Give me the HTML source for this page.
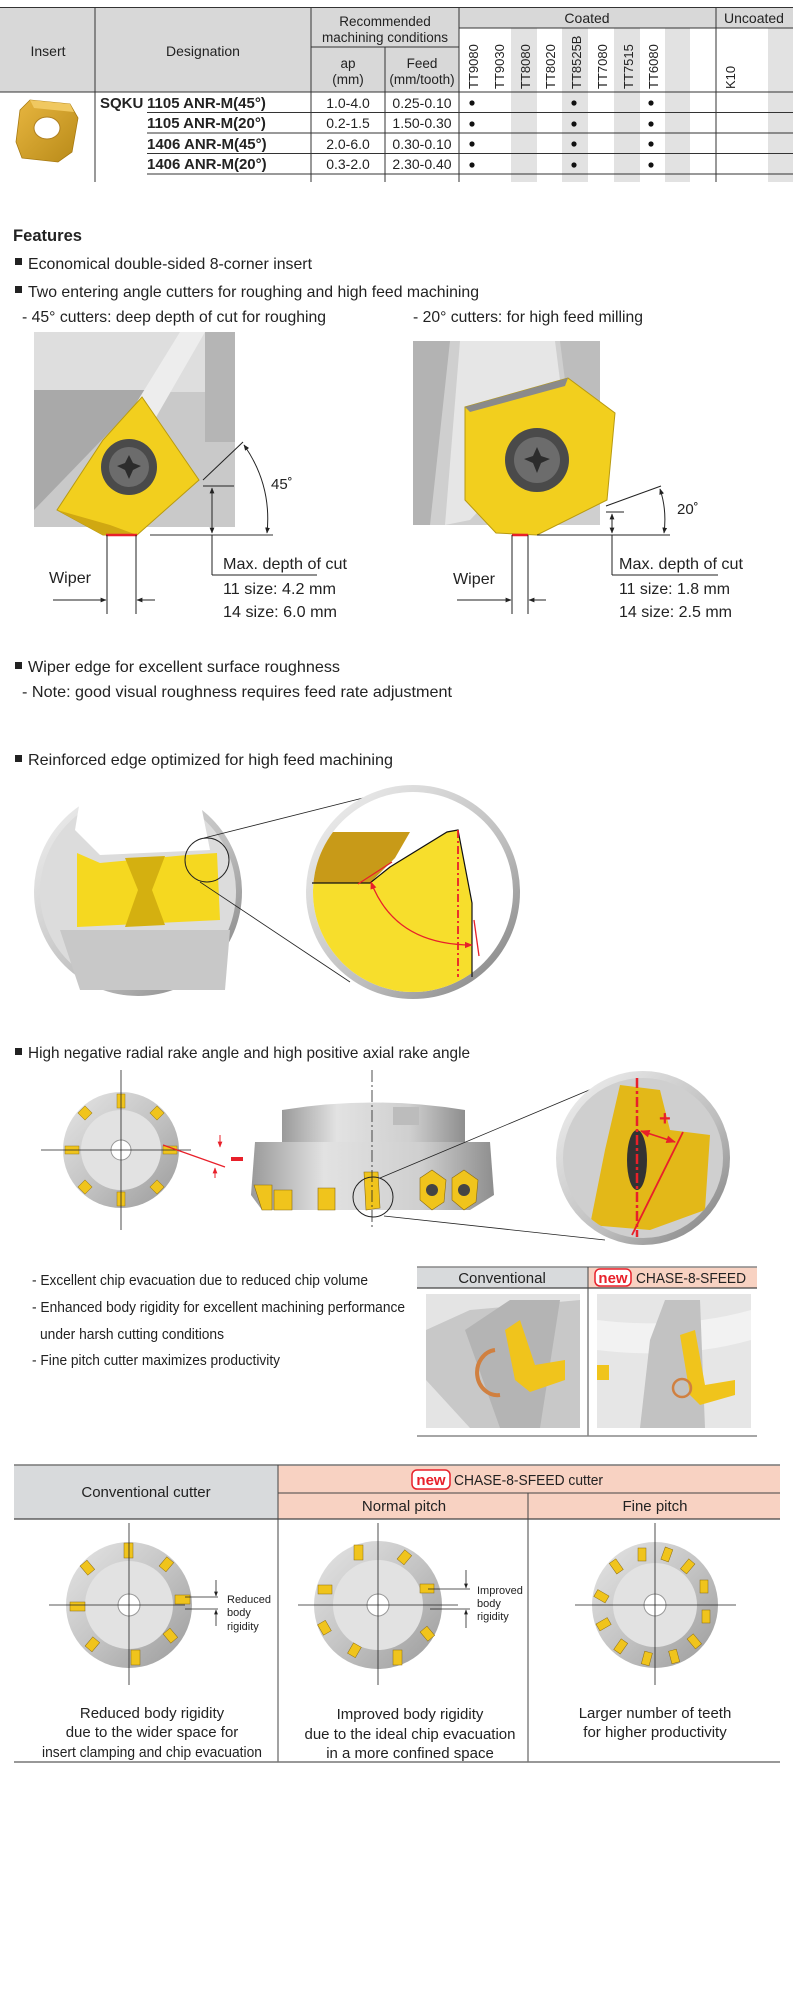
<!DOCTYPE html>
<html><head><meta charset="utf-8"><style>
html,body{margin:0;padding:0;background:#fff;width:800px;height:2000px;overflow:hidden}
svg{display:block}
text{font-family:"Liberation Sans Narrow","Liberation Sans",sans-serif;fill:#222}
.b{font-weight:bold}
</style></head><body>
<svg width="800" height="2000" viewBox="0 0 800 2000" xmlns="http://www.w3.org/2000/svg">
<defs>
<linearGradient id="met" x1="0" y1="0" x2="1" y2="1"><stop offset="0" stop-color="#e6e6e6"/><stop offset="0.5" stop-color="#c4c4c4"/><stop offset="1" stop-color="#9a9a9a"/></linearGradient>
<linearGradient id="met2" x1="0" y1="0" x2="1" y2="0"><stop offset="0" stop-color="#9a9a9a"/><stop offset="0.3" stop-color="#e2e2e2"/><stop offset="0.7" stop-color="#cfcfcf"/><stop offset="1" stop-color="#8e8e8e"/></linearGradient>
<linearGradient id="ring" x1="0" y1="0" x2="1" y2="1"><stop offset="0" stop-color="#f4f4f4"/><stop offset="0.6" stop-color="#bdbdbd"/><stop offset="1" stop-color="#7a7a7a"/></linearGradient>
<linearGradient id="gold" x1="0" y1="0" x2="1" y2="1"><stop offset="0" stop-color="#e8b640"/><stop offset="1" stop-color="#b88a18"/></linearGradient>
<marker id="ar" viewBox="0 0 10 10" refX="9" refY="5" markerWidth="6" markerHeight="6" orient="auto-start-reverse"><path d="M0,1 L10,5 L0,9 z" fill="#222"/></marker>
<marker id="arr" viewBox="0 0 10 10" refX="9" refY="5" markerWidth="6" markerHeight="6" orient="auto-start-reverse"><path d="M0,1 L10,5 L0,9 z" fill="#e8202a"/></marker>
</defs>

<!-- ================= TOP TABLE ================= -->
<rect x="0" y="7" width="459" height="85" fill="#d8d8d8"/>
<rect x="459" y="7" width="334" height="21" fill="#d8d8d8"/>
<g fill="#e2e2e2">
<rect x="511" y="28" width="26" height="154"/><rect x="562" y="28" width="26" height="154"/>
<rect x="614" y="28" width="26" height="154"/><rect x="665" y="28" width="25" height="154"/>
<rect x="768" y="28" width="25" height="154"/>
</g>
<g stroke="#333" stroke-width="1" fill="none">
<line x1="0" y1="7.5" x2="793" y2="7.5"/>
<line x1="0" y1="92" x2="793" y2="92"/>
<line x1="311" y1="47" x2="459" y2="47"/>
<line x1="459" y1="28" x2="793" y2="28"/>
<line x1="95" y1="7" x2="95" y2="182"/>
<line x1="311" y1="7" x2="311" y2="182"/>
<line x1="385" y1="47" x2="385" y2="182"/>
<line x1="459" y1="7" x2="459" y2="182"/>
<line x1="716" y1="7" x2="716" y2="182"/>
<line x1="147" y1="112.5" x2="793" y2="112.5"/>
<line x1="147" y1="133" x2="793" y2="133"/>
<line x1="147" y1="153.5" x2="793" y2="153.5"/>
<line x1="147" y1="174" x2="793" y2="174"/>
</g>
<text x="48" y="56" font-size="14" text-anchor="middle">Insert</text>
<text x="203" y="56" font-size="14" text-anchor="middle">Designation</text>
<text x="385" y="26" font-size="13.5" text-anchor="middle">Recommended</text>
<text x="385" y="42" font-size="13.5" text-anchor="middle">machining conditions</text>
<text x="348" y="68" font-size="13.5" text-anchor="middle">ap</text>
<text x="348" y="84" font-size="13.5" text-anchor="middle">(mm)</text>
<text x="422" y="68" font-size="13.5" text-anchor="middle">Feed</text>
<text x="422" y="84" font-size="13.5" text-anchor="middle">(mm/tooth)</text>
<text x="587" y="23" font-size="14" text-anchor="middle">Coated</text>
<text x="754" y="23" font-size="14" text-anchor="middle">Uncoated</text>
<g font-size="13" font-family="Liberation Sans,sans-serif">
<text transform="translate(478,89) rotate(-90)">TT9080</text>
<text transform="translate(504,89) rotate(-90)">TT9030</text>
<text transform="translate(530,89) rotate(-90)">TT8080</text>
<text transform="translate(555,89) rotate(-90)">TT8020</text>
<text transform="translate(581,89) rotate(-90)">TT8525B</text>
<text transform="translate(607,89) rotate(-90)">TT7080</text>
<text transform="translate(633,89) rotate(-90)">TT7515</text>
<text transform="translate(658,89) rotate(-90)">TT6080</text>
<text transform="translate(735,89) rotate(-90)">K10</text>
</g>
<!-- insert image -->
<path d="M30,100 L70,104 L78,118 L72,152 L58,162 L22,158 L16,142 L20,110 Z" fill="url(#gold)" stroke="#a87a10" stroke-width="0.8"/>
<path d="M30,100 L70,104 L74,112 L34,108 Z" fill="#f0c860"/>
<ellipse cx="47" cy="128" rx="13" ry="11" fill="#fff" stroke="#b08020"/>
<text x="100" y="108" font-size="15" class="b">SQKU</text>
<g font-size="15" class="b">
<text x="147" y="108">1105 ANR-M(45°)</text>
<text x="147" y="128">1105 ANR-M(20°)</text>
<text x="147" y="149">1406 ANR-M(45°)</text>
<text x="147" y="169">1406 ANR-M(20°)</text>
</g>
<g font-size="14" text-anchor="middle">
<text x="348" y="108">1.0-4.0</text><text x="422" y="108">0.25-0.10</text>
<text x="348" y="128">0.2-1.5</text><text x="422" y="128">1.50-0.30</text>
<text x="348" y="149">2.0-6.0</text><text x="422" y="149">0.30-0.10</text>
<text x="348" y="169">0.3-2.0</text><text x="422" y="169">2.30-0.40</text>
</g>
<g fill="#111">
<circle cx="472" cy="103" r="2.6"/><circle cx="574" cy="103" r="2.6"/><circle cx="651" cy="103" r="2.6"/>
<circle cx="472" cy="124" r="2.6"/><circle cx="574" cy="124" r="2.6"/><circle cx="651" cy="124" r="2.6"/>
<circle cx="472" cy="144" r="2.6"/><circle cx="574" cy="144" r="2.6"/><circle cx="651" cy="144" r="2.6"/>
<circle cx="472" cy="165" r="2.6"/><circle cx="574" cy="165" r="2.6"/><circle cx="651" cy="165" r="2.6"/>
</g>

<!-- ================= FEATURES ================= -->
<text x="13" y="241" font-size="17" class="b" textLength="69" lengthAdjust="spacingAndGlyphs">Features</text>
<rect x="15" y="258" width="7" height="7" fill="#222"/>
<text x="28" y="269" font-size="16" textLength="284" lengthAdjust="spacingAndGlyphs">Economical double-sided 8-corner insert</text>
<rect x="15" y="286" width="7" height="7" fill="#222"/>
<text x="28" y="297" font-size="16" textLength="451" lengthAdjust="spacingAndGlyphs">Two entering angle cutters for roughing and high feed machining</text>
<text x="22" y="322" font-size="16" textLength="304" lengthAdjust="spacingAndGlyphs">- 45° cutters: deep depth of cut for roughing</text>
<text x="413" y="322" font-size="16" textLength="230" lengthAdjust="spacingAndGlyphs">- 20° cutters: for high feed milling</text>

<!-- left cutter image -->
<rect x="34" y="332" width="201" height="195" fill="#c9c9c9"/>
<rect x="34" y="332" width="201" height="60" fill="#dedede"/>
<path d="M34,390 L150,390 L34,510 Z" fill="#a9a9a9"/>
<path d="M180,332 L205,332 L120,480 L95,470 Z" fill="#ededed"/>
<rect x="205" y="332" width="30" height="110" fill="#b5b5b5"/>
<path d="M142,397 L199,480 L137,535 L103,535 L57,510 L103,440 Z" fill="#f2cf1e" stroke="#b89a10" stroke-width="1"/>
<path d="M57,510 L103,535 L137,535 L110,525 Z" fill="#d0a812"/>
<circle cx="129" cy="467" r="28" fill="#4a4a4a"/>
<circle cx="129" cy="467" r="20" fill="#6c6c6c"/>
<path d="M129,455 L133,463 L141,466 L133,470 L129,479 L125,470 L117,466 L125,463 Z" fill="#2c2c2c"/>
<line x1="106" y1="535" x2="137" y2="535" stroke="#e8202a" stroke-width="2.5"/>
<g stroke="#222" stroke-width="1" fill="none">
<line x1="150" y1="535" x2="273" y2="535" stroke="#777" stroke-width="1.5"/>
<line x1="203" y1="486" x2="234" y2="486"/>
<line x1="212" y1="488" x2="212" y2="533" marker-start="url(#ar)" marker-end="url(#ar)"/>
<line x1="203" y1="480" x2="243" y2="442"/>
<path d="M244,445 Q272,485 267,533" marker-start="url(#ar)" marker-end="url(#ar)"/>
<line x1="107" y1="535" x2="107" y2="614"/>
<line x1="136" y1="535" x2="136" y2="614"/>
<line x1="53" y1="600" x2="106" y2="600" marker-end="url(#ar)"/>
<line x1="155" y1="600" x2="137" y2="600" marker-end="url(#ar)"/>
<line x1="212" y1="535" x2="212" y2="575"/>
<line x1="212" y1="575" x2="317" y2="575"/>
</g>
<text x="271" y="489" font-size="15">45˚</text>
<text x="49" y="583" font-size="16" textLength="42" lengthAdjust="spacingAndGlyphs">Wiper</text>
<text x="223" y="569" font-size="16" textLength="124" lengthAdjust="spacingAndGlyphs">Max. depth of cut</text>
<text x="223" y="594" font-size="16" textLength="113" lengthAdjust="spacingAndGlyphs">11 size: 4.2 mm</text>
<text x="223" y="617" font-size="16" textLength="114" lengthAdjust="spacingAndGlyphs">14 size: 6.0 mm</text>

<!-- right cutter image -->
<rect x="413" y="341" width="187" height="184" fill="#cfcfcf"/>
<path d="M460,341 L555,341 L565,420 L470,520 L445,525 Z" fill="#e6e6e6"/>
<path d="M560,341 L600,341 L600,470 L585,500 L570,420 Z" fill="#bdbdbd"/>
<path d="M413,341 L450,341 L430,525 L413,525 Z" fill="#b3b3b3"/>
<path d="M465,407 L568,378 L615,413 L607,500 L537,535 L496,533 L465,500 Z" fill="#f2cf1e" stroke="#b89a10" stroke-width="1"/>
<path d="M465,407 L568,378 L565,386 L470,412 Z" fill="#8a8a8a"/>
<circle cx="537" cy="460" r="32" fill="#4a4a4a"/>
<circle cx="537" cy="460" r="23" fill="#6c6c6c"/>
<path d="M537,447 L541,456 L550,459 L541,463 L537,473 L533,463 L524,459 L533,456 Z" fill="#2c2c2c"/>
<line x1="512" y1="535" x2="528" y2="535" stroke="#e8202a" stroke-width="2.5"/>
<g stroke="#222" stroke-width="1" fill="none">
<line x1="537" y1="535" x2="670" y2="535"/>
<line x1="606" y1="512" x2="624" y2="512"/>
<line x1="612" y1="514" x2="612" y2="533" marker-start="url(#ar)" marker-end="url(#ar)"/>
<line x1="606" y1="506" x2="661" y2="486"/>
<path d="M660,489 Q667,510 664,533" marker-start="url(#ar)" marker-end="url(#ar)"/>
<line x1="512" y1="535" x2="512" y2="614"/>
<line x1="528" y1="535" x2="528" y2="614"/>
<line x1="457" y1="600" x2="511" y2="600" marker-end="url(#ar)"/>
<line x1="546" y1="600" x2="529" y2="600" marker-end="url(#ar)"/>
<line x1="612" y1="535" x2="612" y2="575"/>
<line x1="612" y1="575" x2="718" y2="575"/>
</g>
<text x="677" y="514" font-size="15">20˚</text>
<text x="453" y="584" font-size="16" textLength="42" lengthAdjust="spacingAndGlyphs">Wiper</text>
<text x="619" y="569" font-size="16" textLength="124" lengthAdjust="spacingAndGlyphs">Max. depth of cut</text>
<text x="619" y="594" font-size="16" textLength="111" lengthAdjust="spacingAndGlyphs">11 size: 1.8 mm</text>
<text x="619" y="617" font-size="16" textLength="113" lengthAdjust="spacingAndGlyphs">14 size: 2.5 mm</text>

<!-- wiper bullet -->
<rect x="15" y="662" width="7" height="7" fill="#222"/>
<text x="28" y="672" font-size="16" textLength="312" lengthAdjust="spacingAndGlyphs">Wiper edge for excellent surface roughness</text>
<text x="22" y="697" font-size="16" textLength="430" lengthAdjust="spacingAndGlyphs">- Note: good visual roughness requires feed rate adjustment</text>

<!-- reinforced -->
<rect x="15" y="755" width="7" height="7" fill="#222"/>
<text x="28" y="765" font-size="16" textLength="365" lengthAdjust="spacingAndGlyphs">Reinforced edge optimized for high feed machining</text>

<circle cx="138" cy="892" r="104" fill="url(#ring)"/>
<circle cx="138" cy="892" r="98" fill="#dcdcdc"/>
<path d="M80,800 Q138,775 200,800 L210,850 L100,855 L75,830 Z" fill="#fff"/>
<path d="M60,930 L230,930 L225,990 L80,990 Z" fill="#c8c8c8"/>
<path d="M77,853 L100,863 L187,855 L217,853 L220,920 L77,927 Z" fill="#f5d820"/>
<path d="M125,858 L165,856 L152,890 L165,925 L125,927 L138,890 Z" fill="#d4b010"/>
<circle cx="207" cy="860" r="22" fill="none" stroke="#222" stroke-width="1"/>
<line x1="204" y1="838" x2="367" y2="797" stroke="#222" stroke-width="0.8"/>
<line x1="200" y1="882" x2="350" y2="982" stroke="#222" stroke-width="0.8"/>

<circle cx="413" cy="892" r="107" fill="url(#ring)"/>
<circle cx="413" cy="892" r="100" fill="#fff"/>
<clipPath id="rc"><circle cx="413" cy="892" r="100"/></clipPath>
<g clip-path="url(#rc)">
<path d="M300,832 L410,832 L395,858 L370,883 L300,883 Z" fill="#c89a18"/>
<path d="M300,883 L370,883 L390,867 L447,832 L458,830 L472,903 L472,1000 L300,1000 Z" fill="#f7de2c"/>
</g>
<path d="M312,883 L370,883 L390,867 L447,832 L458,830 L472,903 L472,977" fill="none" stroke="#111" stroke-width="1.2"/>
<line x1="458" y1="830" x2="458" y2="977" stroke="#e8202a" stroke-width="1.8" stroke-dasharray="8,3,2,3"/>
<path d="M371,882 Q395,945 472,945" fill="none" stroke="#e8202a" stroke-width="1.3" marker-start="url(#arr)" marker-end="url(#arr)"/>
<line x1="358" y1="884" x2="392" y2="862" stroke="#e8202a" stroke-width="1.3"/>
<line x1="474" y1="920" x2="479" y2="956" stroke="#e8202a" stroke-width="1.3"/>

<!-- rake angle -->
<rect x="15" y="1048" width="7" height="7" fill="#222"/>
<text x="28" y="1058" font-size="16" textLength="442" lengthAdjust="spacingAndGlyphs">High negative radial rake angle and high positive axial rake angle</text>

<circle cx="121" cy="1150" r="58" fill="url(#met)"/>
<circle cx="121" cy="1150" r="40" fill="#e2e2e2"/>
<circle cx="121" cy="1150" r="10" fill="#fff" stroke="#999"/>
<g fill="#f0c41c" stroke="#9a7a10" stroke-width="0.5">
<rect x="117" y="1094" width="8" height="14"/><rect x="117" y="1192" width="8" height="14"/>
<rect x="65" y="1146" width="14" height="8"/><rect x="163" y="1146" width="14" height="8"/>
<rect x="80" y="1108" width="10" height="10" transform="rotate(-45 85 1113)"/>
<rect x="152" y="1108" width="10" height="10" transform="rotate(45 157 1113)"/>
<rect x="80" y="1182" width="10" height="10" transform="rotate(45 85 1187)"/>
<rect x="152" y="1182" width="10" height="10" transform="rotate(-45 157 1187)"/>
</g>
<g stroke="#222" stroke-width="0.8"><line x1="41" y1="1150" x2="191" y2="1150"/><line x1="121" y1="1070" x2="121" y2="1230"/></g>
<line x1="163" y1="1145" x2="225" y2="1167" stroke="#e8202a" stroke-width="1.2"/>
<line x1="220" y1="1135" x2="220" y2="1147" stroke="#e8202a" marker-end="url(#arr)"/>
<line x1="215" y1="1178" x2="215" y2="1168" stroke="#e8202a" marker-end="url(#arr)"/>
<rect x="231" y="1157" width="12" height="4" fill="#e8202a"/>

<path d="M282,1110 Q373,1095 465,1110 L465,1142 L282,1142 Z" fill="url(#met2)"/>
<rect x="393" y="1107" width="26" height="18" fill="#bcbcbc"/>
<path d="M255,1142 L490,1142 L494,1195 L470,1210 L262,1210 L251,1195 Z" fill="url(#met2)"/>
<g fill="#f0c41c" stroke="#8a6a10" stroke-width="0.6">
<path d="M254,1185 L272,1185 L272,1210 L262,1210 Z"/><path d="M274,1190 L292,1190 L292,1210 L274,1210 Z"/>
<path d="M318,1188 L335,1188 L335,1210 L318,1210 Z"/><path d="M364,1172 L378,1172 L380,1208 L366,1210 Z"/>
<path d="M420,1178 L432,1170 L446,1180 L444,1202 L432,1210 L420,1200 Z"/>
<path d="M452,1178 L464,1170 L478,1180 L476,1202 L464,1210 L452,1200 Z"/>
</g>
<circle cx="432" cy="1190" r="6" fill="#444"/><circle cx="464" cy="1190" r="6" fill="#444"/>
<line x1="372" y1="1070" x2="372" y2="1230" stroke="#222" stroke-width="0.8" stroke-dasharray="12,3,2,3"/>
<circle cx="373" cy="1197" r="20" fill="none" stroke="#222" stroke-width="1"/>
<line x1="380" y1="1178" x2="594" y2="1088" stroke="#222" stroke-width="0.8"/>
<line x1="384" y1="1216" x2="605" y2="1240" stroke="#222" stroke-width="0.8"/>

<circle cx="643" cy="1158" r="87" fill="url(#ring)"/>
<circle cx="643" cy="1158" r="80" fill="#cfcfcf"/>
<clipPath id="rc2"><circle cx="643" cy="1158" r="80"/></clipPath>
<g clip-path="url(#rc2)">
<path d="M620,1085 L660,1090 L670,1130 L710,1135 L705,1210 L650,1230 L590,1225 L605,1150 Z" fill="#e3b818"/>
<ellipse cx="637" cy="1160" rx="10" ry="30" fill="#333"/>
</g>
<line x1="637" y1="1078" x2="637" y2="1237" stroke="#e8202a" stroke-width="2.5" stroke-dasharray="10,3,3,3"/>
<line x1="683" y1="1132" x2="632" y2="1235" stroke="#e8202a" stroke-width="1.8"/>
<line x1="641" y1="1131" x2="675" y2="1142" stroke="#e8202a" stroke-width="1.6" marker-start="url(#arr)" marker-end="url(#arr)"/>
<text x="659" y="1125" font-size="20" fill="#e8202a" style="fill:#e8202a" class="b">+</text>

<!-- bullet list -->
<text x="32" y="1285" font-size="15" textLength="336" lengthAdjust="spacingAndGlyphs">- Excellent chip evacuation due to reduced chip volume</text>
<text x="32" y="1312" font-size="15" textLength="373" lengthAdjust="spacingAndGlyphs">- Enhanced body rigidity for excellent machining performance</text>
<text x="40" y="1339" font-size="15" textLength="184" lengthAdjust="spacingAndGlyphs">under harsh cutting conditions</text>
<text x="32" y="1365" font-size="15" textLength="248" lengthAdjust="spacingAndGlyphs">- Fine pitch cutter maximizes productivity</text>

<!-- small comparison table -->
<rect x="417" y="1267" width="171" height="21" fill="#d8dadc"/>
<rect x="588" y="1267" width="169" height="21" fill="#f8d2c2"/>
<g stroke="#444" fill="none">
<line x1="417" y1="1267" x2="757" y2="1267" stroke-width="1.5" stroke="#888"/>
<line x1="417" y1="1288" x2="757" y2="1288" stroke-width="1.2"/>
<line x1="588" y1="1267" x2="588" y2="1436"/>
<line x1="417" y1="1436" x2="757" y2="1436" stroke-width="1.5" stroke="#888"/>
</g>
<text x="502" y="1283" font-size="15" text-anchor="middle">Conventional</text>
<rect x="595" y="1269" width="36" height="17" rx="5" fill="#fff" stroke="#e8202a" stroke-width="1.5"/>
<text x="613" y="1283" font-size="15" class="b" text-anchor="middle" style="fill:#e8202a">new</text>
<text x="636" y="1283" font-size="15" textLength="110" lengthAdjust="spacingAndGlyphs">CHASE-8-SFEED</text>
<rect x="426" y="1294" width="154" height="134" fill="#e4e4e4"/>
<path d="M426,1330 L470,1310 L580,1300 L580,1428 L470,1428 L426,1380 Z" fill="#c8c8c8"/>
<path d="M465,1330 L510,1300 L560,1300 L540,1428 L500,1428 Z" fill="#b4b4b4"/>
<path d="M505,1330 L520,1320 L535,1365 L565,1360 L565,1380 L530,1392 L515,1380 Z" fill="#f0c41c"/>
<path d="M495,1350 A18,20 0 1 0 500,1395" fill="none" stroke="#d08040" stroke-width="4"/>
<rect x="597" y="1294" width="154" height="134" fill="#e6e6e6"/>
<path d="M597,1320 Q680,1330 751,1310 L751,1340 Q680,1360 597,1350 Z" fill="#f2f2f2"/>
<path d="M640,1428 L650,1340 L665,1300 L700,1300 L705,1428 Z" fill="#c2c2c2"/>
<path d="M680,1335 L695,1330 L705,1385 L735,1380 L735,1395 L700,1405 L690,1395 Z" fill="#f0c41c"/>
<circle cx="682" cy="1388" r="9" fill="none" stroke="#d08040" stroke-width="2.5"/>
<rect x="597" y="1365" width="12" height="15" fill="#f0c41c"/>

<!-- bottom table -->
<rect x="14" y="1465" width="264" height="54" fill="#d8dadc"/>
<rect x="278" y="1465" width="502" height="54" fill="#f8d2c2"/>
<g stroke="#444" fill="none">
<line x1="14" y1="1465" x2="780" y2="1465" stroke-width="1.5" stroke="#777"/>
<line x1="278" y1="1493" x2="780" y2="1493"/>
<line x1="14" y1="1519" x2="780" y2="1519" stroke-width="1.2"/>
<line x1="278" y1="1465" x2="278" y2="1762"/>
<line x1="528" y1="1493" x2="528" y2="1762"/>
<line x1="14" y1="1762" x2="780" y2="1762" stroke-width="1.5" stroke="#777"/>
</g>
<text x="146" y="1497" font-size="15" text-anchor="middle">Conventional cutter</text>
<rect x="412" y="1470" width="38" height="19" rx="5" fill="#fff" stroke="#e8202a" stroke-width="1.5"/>
<text x="431" y="1485" font-size="15" class="b" text-anchor="middle" style="fill:#e8202a">new</text>
<text x="454" y="1485" font-size="15" textLength="149" lengthAdjust="spacingAndGlyphs">CHASE-8-SFEED cutter</text>
<text x="404" y="1511" font-size="15" text-anchor="middle">Normal pitch</text>
<text x="655" y="1511" font-size="15" text-anchor="middle">Fine pitch</text>

<!-- cutters -->
<g>
<circle cx="129" cy="1605" r="63" fill="url(#met)"/>
<circle cx="129" cy="1605" r="44" fill="#e2e2e2"/>
<circle cx="129" cy="1605" r="11" fill="#fff" stroke="#999"/>
<g fill="#f0c41c" stroke="#8a6a10" stroke-width="0.5">
<rect x="124" y="1543" width="9" height="15"/><rect x="131" y="1650" width="9" height="15"/>
<rect x="70" y="1602" width="15" height="9"/><rect x="175" y="1595" width="15" height="9"/>
<rect x="83" y="1562" width="9" height="12" transform="rotate(-40 87 1568)"/>
<rect x="162" y="1558" width="9" height="12" transform="rotate(40 166 1564)"/>
<rect x="88" y="1638" width="9" height="12" transform="rotate(40 92 1644)"/>
<rect x="166" y="1630" width="9" height="12" transform="rotate(-40 170 1636)"/>
</g>
<g stroke="#222" stroke-width="0.8"><line x1="49" y1="1605" x2="185" y2="1605"/><line x1="129" y1="1523" x2="129" y2="1685"/>
<line x1="185" y1="1597" x2="218" y2="1597"/><line x1="185" y1="1609" x2="218" y2="1609"/>
<line x1="216" y1="1580" x2="216" y2="1596" marker-end="url(#ar)"/><line x1="216" y1="1626" x2="216" y2="1610" marker-end="url(#ar)"/></g>
<text x="227" y="1603" font-size="11">Reduced</text><text x="227" y="1616" font-size="11">body</text><text x="227" y="1630" font-size="11">rigidity</text>
</g>
<g>
<circle cx="378" cy="1605" r="64" fill="url(#met)"/>
<circle cx="378" cy="1605" r="45" fill="#e2e2e2"/>
<circle cx="378" cy="1605" r="11" fill="#fff" stroke="#999"/>
<g fill="#f0c41c" stroke="#8a6a10" stroke-width="0.5">
<rect x="354" y="1545" width="9" height="15"/><rect x="393" y="1650" width="9" height="15"/>
<rect x="318" y="1585" width="14" height="9"/><rect x="420" y="1584" width="14" height="9"/>
<rect x="400" y="1551" width="9" height="12" transform="rotate(40 404 1557)"/>
<rect x="320" y="1622" width="9" height="12" transform="rotate(-30 324 1628)"/>
<rect x="350" y="1644" width="9" height="12" transform="rotate(30 354 1650)"/>
<rect x="423" y="1628" width="9" height="12" transform="rotate(-40 427 1634)"/>
</g>
<g stroke="#222" stroke-width="0.8"><line x1="298" y1="1605" x2="458" y2="1605"/><line x1="378" y1="1523" x2="378" y2="1685"/>
<line x1="428" y1="1589" x2="470" y2="1589"/><line x1="430" y1="1609" x2="470" y2="1609"/>
<line x1="466" y1="1570" x2="466" y2="1588" marker-end="url(#ar)"/><line x1="466" y1="1628" x2="466" y2="1610" marker-end="url(#ar)"/></g>
<text x="477" y="1594" font-size="11">Improved</text><text x="477" y="1607" font-size="11">body</text><text x="477" y="1620" font-size="11">rigidity</text>
</g>
<g>
<circle cx="655" cy="1605" r="63" fill="url(#met)"/>
<circle cx="655" cy="1605" r="42" fill="#e2e2e2"/>
<circle cx="655" cy="1605" r="11" fill="#fff" stroke="#999"/>
<g fill="#f0c41c" stroke="#8a6a10" stroke-width="0.5">
<rect x="638" y="1548" width="8" height="13"/><rect x="663" y="1548" width="8" height="13" transform="rotate(20 667 1554)"/>
<rect x="684" y="1560" width="8" height="13" transform="rotate(40 688 1566)"/><rect x="700" y="1580" width="8" height="13"/>
<rect x="702" y="1610" width="8" height="13"/><rect x="690" y="1635" width="8" height="13" transform="rotate(-40 694 1641)"/>
<rect x="670" y="1650" width="8" height="13" transform="rotate(-15 674 1656)"/><rect x="643" y="1652" width="8" height="13" transform="rotate(15 647 1658)"/>
<rect x="617" y="1640" width="8" height="13" transform="rotate(35 621 1646)"/><rect x="600" y="1618" width="8" height="13" transform="rotate(60 604 1624)"/>
<rect x="597" y="1590" width="8" height="13" transform="rotate(-60 601 1596)"/><rect x="612" y="1560" width="8" height="13" transform="rotate(-35 616 1566)"/>
</g>
<g stroke="#222" stroke-width="0.8"><line x1="575" y1="1605" x2="736" y2="1605"/><line x1="655" y1="1523" x2="655" y2="1685"/></g>
</g>

<g font-size="15" text-anchor="middle">
<text x="152" y="1718">Reduced body rigidity</text>
<text x="152" y="1737">due to the wider space for</text>
<text x="152" y="1757" textLength="220" lengthAdjust="spacingAndGlyphs">insert clamping and chip evacuation</text>
<text x="410" y="1719">Improved body rigidity</text>
<text x="410" y="1739">due to the ideal chip evacuation</text>
<text x="410" y="1758">in a more confined space</text>
<text x="655" y="1718">Larger number of teeth</text>
<text x="655" y="1737">for higher productivity</text>
</g>
</svg>
</body></html>
